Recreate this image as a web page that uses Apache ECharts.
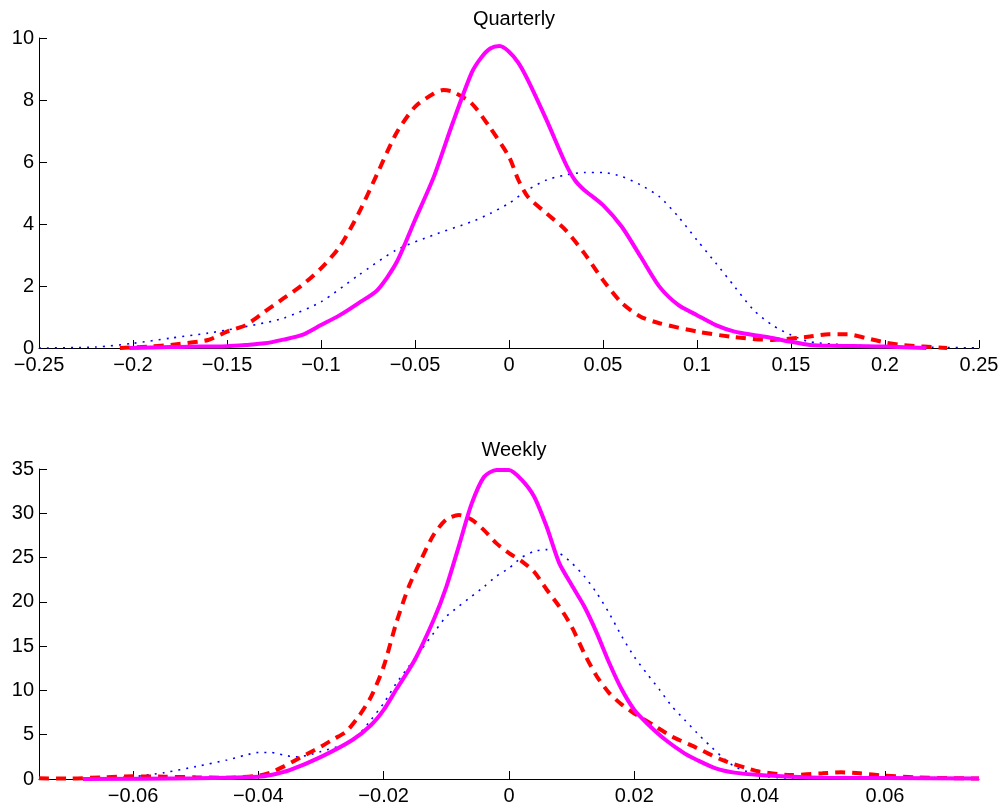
<!DOCTYPE html>
<html><head><meta charset="utf-8">
<script src="https://cdn.jsdelivr.net/npm/echarts@6/dist/echarts.min.js"></script>
<style>html,body{margin:0;padding:0;background:#fff}#c{width:1003px;height:809px}</style>
</head><body><div id="c"></div>
<script>
// Quarterly panel
const qTicks = [-0.25,-0.2,-0.15,-0.1,-0.05,0,0.05,0.1,0.15,0.2,0.25];
const qSolid = [[-0.202,0],[-0.19,0.02],[-0.18,0.03],[-0.17,0.04],[-0.16,0.05],[-0.15,0.06],[-0.14,0.1],[-0.13,0.15],[-0.12,0.27],[-0.11,0.42],[-0.1,0.74],[-0.09,1.06],[-0.08,1.45],[-0.07,1.87],[-0.06,2.74],[-0.05,4.13],[-0.04,5.52],[-0.03,7.25],[-0.02,8.86],[-0.015,9.35],[-0.01,9.66],[-0.005,9.74],[0,9.56],[0.005,9.2],[0.01,8.65],[0.02,7.35],[0.03,5.96],[0.035,5.42],[0.04,5.1],[0.05,4.61],[0.06,3.91],[0.07,2.95],[0.08,1.98],[0.09,1.39],[0.1,1.06],[0.11,0.74],[0.12,0.53],[0.13,0.42],[0.14,0.32],[0.15,0.2],[0.16,0.1],[0.17,0.07],[0.19,0.06],[0.2,0.05],[0.222,0]];
const qDashed = [[-0.207,0],[-0.19,0.05],[-0.18,0.1],[-0.16,0.26],[-0.15,0.53],[-0.14,0.74],[-0.13,1.17],[-0.12,1.6],[-0.11,2.03],[-0.1,2.57],[-0.09,3.27],[-0.08,4.34],[-0.07,5.63],[-0.06,6.92],[-0.05,7.78],[-0.04,8.21],[-0.035,8.32],[-0.03,8.27],[-0.02,7.9],[-0.01,7.1],[0,6.17],[0.005,5.42],[0.01,4.88],[0.02,4.34],[0.03,3.81],[0.04,3.06],[0.05,2.19],[0.06,1.45],[0.07,1.01],[0.08,0.8],[0.1,0.53],[0.12,0.35],[0.14,0.26],[0.16,0.37],[0.17,0.44],[0.18,0.44],[0.19,0.32],[0.2,0.18],[0.21,0.09],[0.233,0]];
const qDotted = [[-0.25,0],[-0.22,0.03],[-0.2,0.15],[-0.18,0.32],[-0.16,0.48],[-0.15,0.58],[-0.14,0.69],[-0.12,0.96],[-0.1,1.49],[-0.08,2.35],[-0.06,3.16],[-0.04,3.65],[-0.02,4.07],[-0.01,4.34],[0,4.67],[0.01,5.1],[0.02,5.42],[0.03,5.58],[0.04,5.66],[0.05,5.66],[0.06,5.53],[0.07,5.26],[0.08,4.88],[0.09,4.24],[0.1,3.48],[0.11,2.74],[0.12,1.98],[0.13,1.23],[0.14,0.74],[0.15,0.42],[0.16,0.2],[0.18,0.1],[0.2,0.06],[0.22,0.03],[0.25,0]];

// Weekly panel
const wTicks = [-0.06,-0.04,-0.02,0,0.02,0.04,0.06];
const wSolid = [[-0.068,0],[-0.05,0.08],[-0.04,0.26],[-0.038,0.45],[-0.035,1.0],[-0.03,2.5],[-0.025,4.4],[-0.022,6.1],[-0.02,7.8],[-0.018,10.1],[-0.015,13.5],[-0.012,18],[-0.01,21.7],[-0.008,26.3],[-0.006,31],[-0.004,34.1],[-0.002,34.9],[0,34.9],[0.002,33.8],[0.004,31.9],[0.006,28.5],[0.008,24.4],[0.01,21.9],[0.012,19.5],[0.014,16.5],[0.016,13.1],[0.018,10.1],[0.02,7.8],[0.022,6.3],[0.025,4.4],[0.028,2.9],[0.03,2.15],[0.033,1.2],[0.036,0.72],[0.04,0.45],[0.045,0.26],[0.05,0.15],[0.06,0.1],[0.075,0.05]];
const wDashed = [[-0.075,0.08],[-0.07,0.05],[-0.065,0.19],[-0.06,0.3],[-0.055,0.26],[-0.05,0.19],[-0.045,0.15],[-0.04,0.38],[-0.038,0.75],[-0.036,1.4],[-0.034,2.15],[-0.032,2.9],[-0.03,3.65],[-0.028,4.5],[-0.026,5.35],[-0.024,7.05],[-0.022,9.3],[-0.02,12.7],[-0.018,17.6],[-0.016,21.7],[-0.014,24.8],[-0.012,27.6],[-0.01,29.3],[-0.008,29.8],[-0.006,29.3],[-0.004,28.1],[-0.002,26.6],[0,25.5],[0.002,24.6],[0.004,23.4],[0.006,21.4],[0.008,19.5],[0.01,17.2],[0.012,14.2],[0.014,11.6],[0.016,9.7],[0.018,8.4],[0.02,7.4],[0.023,6.1],[0.026,4.8],[0.03,3.5],[0.034,2.15],[0.038,1.2],[0.04,0.83],[0.045,0.45],[0.05,0.64],[0.053,0.75],[0.056,0.64],[0.06,0.38],[0.065,0.19],[0.07,0.1],[0.075,0.05]];
const wDotted = [[-0.068,0],[-0.06,0.26],[-0.055,0.72],[-0.05,1.4],[-0.045,2.15],[-0.042,2.7],[-0.04,3.0],[-0.038,3.0],[-0.036,2.7],[-0.034,2.5],[-0.032,2.7],[-0.03,3.1],[-0.026,4.0],[-0.024,5.0],[-0.022,6.7],[-0.02,8.55],[-0.018,10.8],[-0.016,12.7],[-0.014,14.6],[-0.012,16.5],[-0.01,18.35],[-0.008,19.5],[-0.006,20.6],[-0.004,21.7],[-0.002,22.9],[0,23.8],[0.002,25.0],[0.004,25.7],[0.006,25.9],[0.008,25.5],[0.01,24.4],[0.012,22.9],[0.014,21.0],[0.016,18.7],[0.018,16.1],[0.02,13.8],[0.022,11.9],[0.024,10.1],[0.026,8.2],[0.028,6.7],[0.03,5.2],[0.032,3.8],[0.034,2.5],[0.036,1.4],[0.038,0.83],[0.04,0.34],[0.045,0.08],[0.05,0]];

const titles = ['Quarterly','Weekly'];
const FONT = 'Liberation Sans, Arial, sans-serif';
const FS = 20;
const fmt = v => String(parseFloat(Number(v).toFixed(4))).replace('-', '\u2212');

function xAxis(gi, min, max, ticks, interval){
  const a = {type:'value', gridIndex:gi, min:min, max:max,
    axisLine:{show:true, onZero:false, lineStyle:{color:'#000', width:1}}, splitLine:{show:false},
    axisTick:{show:true, inside:true, length:8, lineStyle:{color:'#000'}},
    axisLabel:{color:'#000', fontSize:FS, fontFamily:FONT, margin:7, formatter:fmt, showMinLabel:true, showMaxLabel:true}};
  if (interval) { a.interval = interval; }
  else { a.axisTick.customValues = ticks; a.axisLabel.customValues = ticks; }
  return a;
}
function yAxis(gi, max, interval){
  return {type:'value', gridIndex:gi, min:0, max:max, interval:interval,
    axisLine:{show:true, onZero:false, lineStyle:{color:'#000', width:1}}, splitLine:{show:false},
    axisTick:{show:true, inside:true, length:8, lineStyle:{color:'#000'}},
    axisLabel:{color:'#000', fontSize:FS, fontFamily:FONT, margin:5}};
}
function series(gi, data, kind){
  const base = {type:'line', xAxisIndex:gi, yAxisIndex:gi, data:data, showSymbol:false, smooth:0.25, animation:false};
  if (kind==='solid') { base.lineStyle = {color:'#ff00ff', width:4, type:'solid'}; base.z=4; }
  if (kind==='dashed') { base.lineStyle = {color:'#ff0000', width:4, type:[10,7]}; base.z=3; }
  if (kind==='dotted') { base.lineStyle = {color:'#0000ff', width:1.6, type:[2,6]}; base.z=2; }
  return base;
}

const chart = echarts.init(document.getElementById('c'), null, {renderer:'canvas'});
chart.setOption({
  backgroundColor:'#fff',
  animation:false,
  title:[
    {text:titles[0], left:509, top:4, textAlign:'center', textStyle:{fontSize:FS, fontWeight:'normal', color:'#000', fontFamily:FONT}},
    {text:titles[1], left:509, top:435, textAlign:'center', textStyle:{fontSize:FS, fontWeight:'normal', color:'#000', fontFamily:FONT}}
  ],
  grid:[
    {left:39, right:24, top:38, height:310},
    {left:39, right:24, top:469, height:310}
  ],
  xAxis:[xAxis(0,-0.25,0.25,qTicks,0.05), xAxis(1,-0.075,0.075,wTicks,null)],
  yAxis:[yAxis(0,10,2), yAxis(1,35,5)],
  series:[
    series(0,qDotted,'dotted'), series(0,qDashed,'dashed'), series(0,qSolid,'solid'),
    series(1,wDotted,'dotted'), series(1,wDashed,'dashed'), series(1,wSolid,'solid')
  ]
});
</script></body></html>
